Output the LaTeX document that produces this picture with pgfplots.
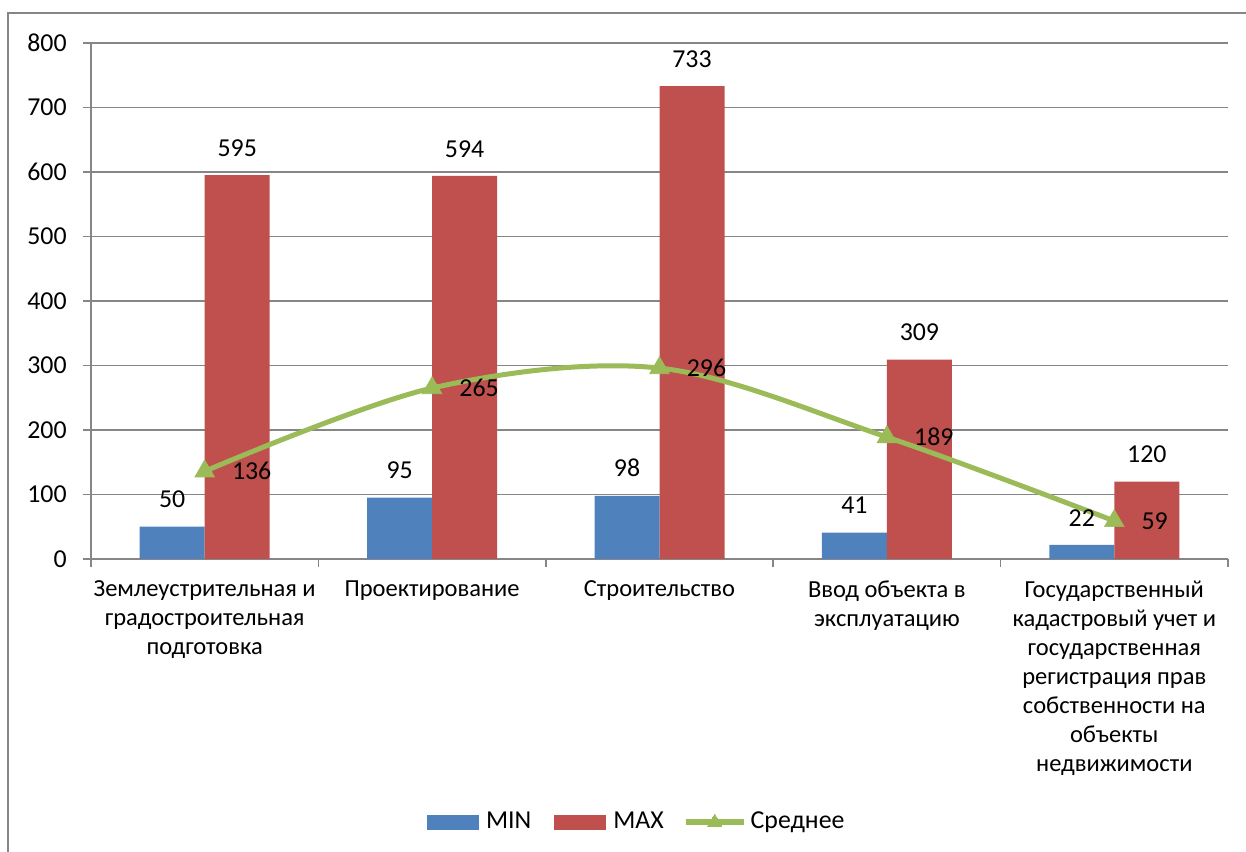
\documentclass[border=0pt]{standalone}
\usepackage{fontspec}
\setmainfont{Carlito}
\usepackage{pgfplots}
\pgfplotsset{compat=1.18}
\definecolor{minblue}{RGB}{79,129,189}
\definecolor{maxred}{RGB}{192,80,77}
\definecolor{avggreen}{RGB}{155,187,89}
\definecolor{gridgray}{RGB}{134,134,134}
\newcommand{\numfont}{\fontsize{15.5}{18}\selectfont}
\begin{document}
\fontsize{14.7}{17.4}\selectfont
\begin{tikzpicture}
\useasboundingbox (0,0) rectangle (747.6pt,511.2pt);
\draw[gridgray, line width=0.7pt] (4.8pt,-5pt) -- (4.8pt,503.4pt) -- (760pt,503.4pt);
\begin{axis}[
    at={(54.6pt,175.8pt)}, anchor=south west,
    scale only axis,
    width=682.2pt, height=309.6pt,
    /pgf/number format/assume math mode=true,
    xmin=-0.5, xmax=4.5,
    ymin=0, ymax=800,
    ytick={0,100,...,800},
    xtick={-0.5,0.5,...,4.5},
    xticklabels={,,,,,},
    extra x ticks={0,1,2,3,4},
    extra x tick labels={{Землеустрительная и\\градостроительная\\подготовка},
        Проектирование,Строительство,{Ввод объекта в\\эксплуатацию},
        {Государственный\\кадастровый учет и\\государственная\\регистрация прав\\собственности на\\объекты\\недвижимости}},
    extra x tick style={major tick length=0pt,
        tick label style={align=center, anchor=north, inner sep=0pt, yshift=-13pt}},
    axis lines*=left,
    axis line style={gridgray, line width=0.9pt},
    ymajorgrids,
    major grid style={gridgray, line width=0.9pt},
    tick align=outside,
    major tick length=4.8pt,
    tick style={gridgray, line width=0.9pt},
    tick pos=left,
    yticklabel style={anchor=east, inner sep=0pt, xshift=-9.6pt, font=\numfont},
    legend columns=3,
    legend style={at={(0.48,-0.5097)}, anchor=center, draw=none, fill=none,
        font=\numfont,
        nodes={inner sep=1.5pt},
        /tikz/every odd column/.append style={column sep=3pt},
        /tikz/every even column/.append style={column sep=12pt}},
]
\addplot[ybar, bar width=39pt, bar shift=-19.5pt, fill=minblue, draw=none,
    nodes near coords,
    every node near coord/.append style={anchor=south, inner sep=0pt,
        xshift=-19.5pt, yshift=11pt, black, font=\numfont},
    legend image code/.code={\fill[minblue, line width=0pt] (0pt,-4.5pt) rectangle (31.2pt,4.5pt);}]
    coordinates {(0,50) (1,95) (2,98) (3,41) (4,22)};
\addlegendentry{MIN}
\addplot[ybar, bar width=39pt, bar shift=19.5pt, fill=maxred, draw=none,
    nodes near coords,
    every node near coord/.append style={anchor=south, inner sep=0pt,
        xshift=19.5pt, yshift=11pt, black, font=\numfont},
    legend image code/.code={\fill[maxred, line width=0pt] (0pt,-4.5pt) rectangle (31.2pt,4.5pt);}]
    coordinates {(0,595) (1,594) (2,733) (3,309) (4,120)};
\addlegendentry{MAX}
\addplot[avggreen, line width=3pt, smooth, tension=0.55,
    mark=triangle*, mark size=6.8pt,
    mark options={solid, fill=avggreen, draw=avggreen, line width=0.4pt},
    nodes near coords,
    every node near coord/.append style={anchor=west, inner sep=0pt,
        xshift=16.2pt, black, font=\numfont},
    legend image code/.code={
        \fill[avggreen, line width=0pt] (0pt,-1.5pt) rectangle (34.2pt,1.5pt);
        \fill[avggreen, line width=0pt] (17.1pt,0pt) ++(90:4.8pt) -- ++(-120:8.4pt) -- ++(0:8.4pt) -- cycle;}]
    coordinates {(0,136) (1,265) (2,296) (3,189) (4,59)};
\addlegendentry{Среднее}
\end{axis}
\end{tikzpicture}
\end{document}
